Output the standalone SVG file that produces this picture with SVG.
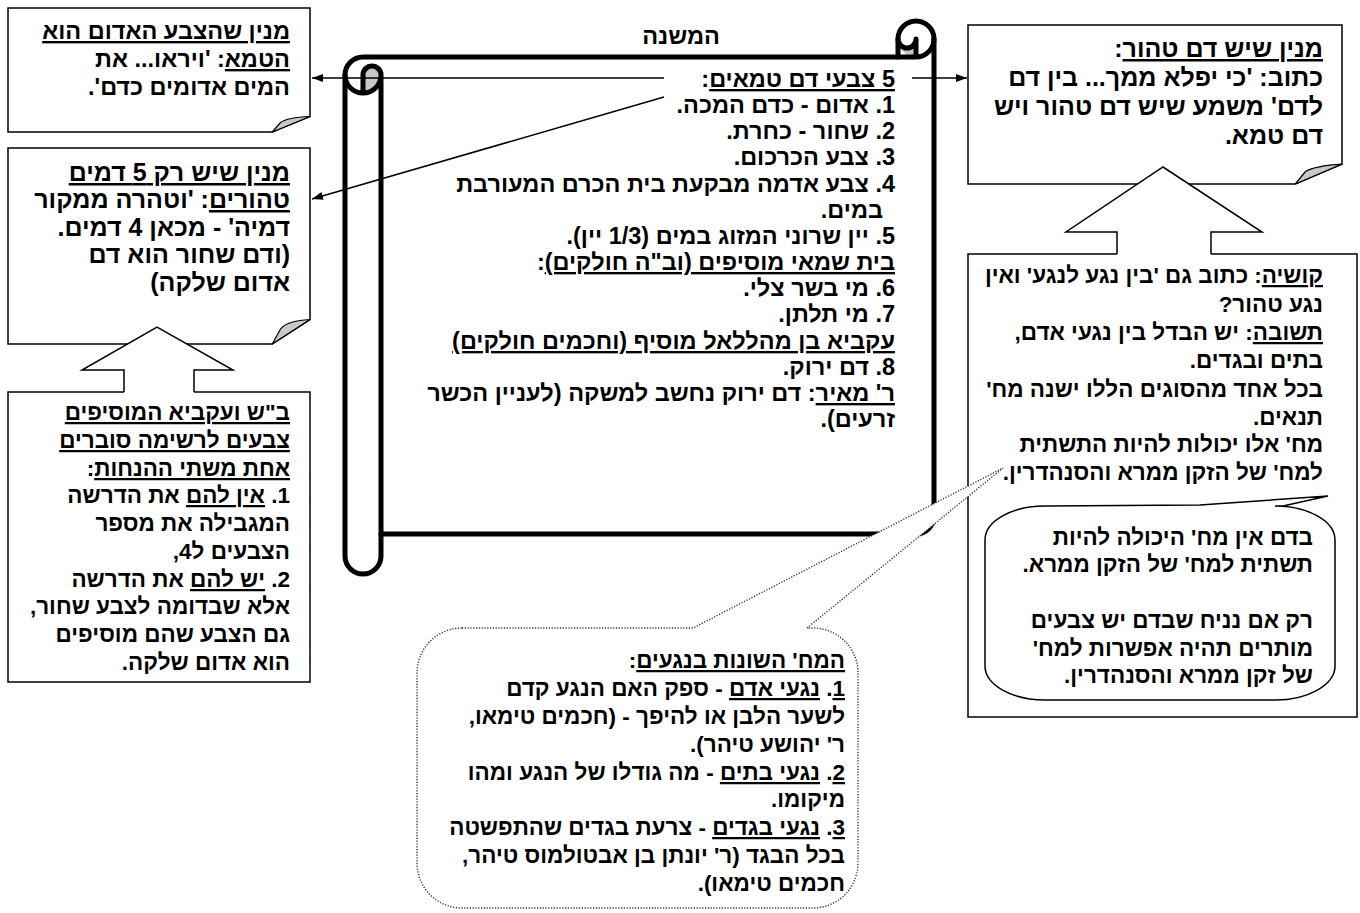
<svg xmlns="http://www.w3.org/2000/svg" width="1360" height="913" viewBox="0 0 1360 913">
<style>
.t{font-family:"Liberation Sans","DejaVu Sans",Arial,sans-serif;font-size:22.5px;font-weight:bold;fill:#000;direction:rtl;text-anchor:start}
.s24 .t{font-size:23.5px}
.s25 .t{font-size:25px}
.c{text-anchor:middle}
.u{text-decoration:underline}
.box{fill:#fff;stroke:#000;stroke-width:1.5}
.fold{fill:#c8c8c8;stroke:#000;stroke-width:1.2;stroke-linejoin:round}
.scroll{fill:#fff;stroke:#000;stroke-width:5;stroke-linejoin:round;stroke-linecap:round}
.scrollin{fill:none;stroke:#000;stroke-width:5;stroke-linejoin:round;stroke-linecap:round}
.gray{fill:#c8c8c8;stroke:none}
.line{fill:none;stroke:#000;stroke-width:1.5}
.blk{fill:#fff;stroke:none}
.blkedge{fill:none;stroke:#000;stroke-width:1.5;stroke-linejoin:miter}
.dot{fill:#fff;stroke:#333;stroke-width:1.4;stroke-dasharray:1.2 1.6}
.call{fill:#fff;stroke:#000;stroke-width:1.5}
</style>
<defs>
<marker id="ah" markerUnits="userSpaceOnUse" markerWidth="12" markerHeight="10" refX="11" refY="4" orient="auto">
<path d="M0,0 L11,4 L0,8 Z" fill="#000"/>
</marker>
</defs>

<g id="note-red-impure" class="s24">
<path class="box" d="M8,8 H310 V116.5 L272.25,132 H8 Z"/>
<path class="fold" d="M272.25,132 L280.5,122.5 C286,118.5 298,117 310,116.5 Z"/>
<text class="t" x="290" y="39"><tspan class="u">מנין שהצבע האדום הוא</tspan></text>
<text class="t" x="290" y="67"><tspan class="u">הטמא</tspan>: 'ויראו... את</text>
<text class="t" x="290" y="95">המים אדומים כדם'.</text>
</g>

<g id="note-five-pure" class="s25">
<path class="box" d="M8,148 H310 V319.5 L272.25,344 H8 Z"/>
<path class="fold" d="M272.25,344 L280.5,329 C286,322 298,320.5 310,319.5 Z"/>
<text class="t" x="290" y="181"><tspan class="u">מנין שיש רק 5 דמים</tspan></text>
<text class="t" x="290" y="208"><tspan class="u">טהורים</tspan>: 'וטהרה ממקור</text>
<text class="t" x="290" y="236">דמיה' - מכאן 4 דמים.</text>
<text class="t" x="290" y="263">(ודם שחור הוא דם</text>
<text class="t" x="290" y="291">אדום שלקה)</text>
</g>

<g id="box-bs-akavia">
<rect class="box" x="8" y="392" width="302" height="290"/>
<text class="t" x="290" y="420"><tspan class="u">ב"ש ועקביא המוסיפים</tspan></text>
<text class="t" x="290" y="448"><tspan class="u">צבעים לרשימה סוברים</tspan></text>
<text class="t" x="290" y="476"><tspan class="u">אחת משתי ההנחות</tspan>:</text>
<text class="t" x="290" y="503">1. <tspan class="u">אין להם</tspan> את הדרשה</text>
<text class="t" x="290" y="531">המגבילה את מספר</text>
<text class="t" x="290" y="559">הצבעים ל4,</text>
<text class="t" x="290" y="587">2. <tspan class="u">יש להם</tspan> את הדרשה</text>
<text class="t" x="290" y="614">אלא שבדומה לצבע שחור,</text>
<text class="t" x="290" y="642">גם הצבע שהם מוסיפים</text>
<text class="t" x="290" y="670">הוא אדום שלקה.</text>
</g>

<g id="scroll-mishna" class="s24">
<path class="scroll" d="M345,75 A18,18 0 0 1 363,57 L898,57 L898,39 A18,18 0 0 1 934,39 L934,516 A18,18 0 0 1 916,534 L381,534 L381,556 A18,18 0 0 1 345,556 Z"/>
<path class="gray" d="M363,93 A18,18 0 0 0 381,75 A9,9 0 0 0 363,75 Z"/>
<path class="gray" d="M898,39 A9,9 0 0 0 916,39 L916,57 A18,18 0 0 1 898,39 Z"/>
<path class="scrollin" d="M898,57 L916,57 A18,18 0 0 0 934,39 M916,57 L916,39 A9,9 0 0 1 898,39 M363,93 L363,75 A9,9 0 0 1 381,75 A18,18 0 0 1 345,75 M381,75 L381,534"/>
<text class="t c" x="681" y="44">המשנה</text>
<text class="t" x="895" y="87"><tspan class="u">5 צבעי דם טמאים</tspan>:</text>
<text class="t" x="895" y="113">1. אדום - כדם המכה.</text>
<text class="t" x="895" y="139">2. שחור - כחרת.</text>
<text class="t" x="895" y="165">3. צבע הכרכום.</text>
<text class="t" x="895" y="192">4. צבע אדמה מבקעת בית הכרם המעורבת</text>
<text class="t" x="883" y="218">במים.</text>
<text class="t" x="895" y="244">5. יין שרוני המזוג במים (1/3 יין).</text>
<text class="t" x="895" y="270"><tspan class="u">בית שמאי מוסיפים (וב"ה חולקים)</tspan>:</text>
<text class="t" x="895" y="296">6. מי בשר צלי.</text>
<text class="t" x="895" y="322">7. מי תלתן.</text>
<text class="t" x="895" y="349"><tspan class="u">עקביא בן מהללאל מוסיף (וחכמים חולקים)</tspan></text>
<text class="t" x="895" y="375">8. דם ירוק.</text>
<text class="t" x="895" y="401"><tspan class="u">ר' מאיר</tspan>: דם ירוק נחשב למשקה (לעניין הכשר</text>
<text class="t" x="895" y="427">זרעים).</text>
</g>

<g id="note-pure-blood" class="s25">
<path class="box" d="M968,25 H1342 V164.1 L1295.25,184 H968 Z"/>
<path class="fold" d="M1295.25,184 L1305.5,171.5 C1313,167 1327,165 1342,164.1 Z"/>
<text class="t" x="1323" y="57"><tspan class="u">מנין שיש דם טהור</tspan>:</text>
<text class="t" x="1323" y="86">כתוב: 'כי יפלא ממך... בין דם</text>
<text class="t" x="1323" y="115">לדם' משמע שיש דם טהור ויש</text>
<text class="t" x="1323" y="144">דם טמא.</text>
</g>

<g id="box-question">
<rect class="box" x="968" y="254" width="389" height="463"/>
<text class="t" x="1323" y="283"><tspan class="u">קושיה</tspan>: כתוב גם 'בין נגע לנגע' ואין</text>
<text class="t" x="1323" y="312">נגע טהור?</text>
<text class="t" x="1323" y="340"><tspan class="u">תשובה</tspan>: יש הבדל בין נגעי אדם,</text>
<text class="t" x="1323" y="368">בתים ובגדים.</text>
<text class="t" x="1323" y="397">בכל אחד מהסוגים הללו ישנה מח'</text>
<text class="t" x="1323" y="425">תנאים.</text>
<text class="t" x="1323" y="452">מח' אלו יכולות להיות התשתית</text>
<text class="t" x="1323" y="480">למח' של הזקן ממרא והסנהדרין.</text>
</g>

<g id="callout-blood">
<path class="call" d="M1045,506 L1200,505 L1328,496 L1283,506 L1275,506 A60,34 0 0 1 1335,540 L1335,666 A60,34 0 0 1 1275,700 L1045,700 A60,34 0 0 1 985,666 L985,540 A60,34 0 0 1 1045,506 Z"/>
<text class="t" x="1313" y="545">בדם אין מח' היכולה להיות</text>
<text class="t" x="1313" y="572">תשתית למח' של הזקן ממרא.</text>
<text class="t" x="1313" y="628">רק אם נניח שבדם יש צבעים</text>
<text class="t" x="1313" y="656">מותרים תהיה אפשרות למח'</text>
<text class="t" x="1313" y="683">של זקן ממרא והסנהדרין.</text>
</g>

<g id="bubble-negaim">
<path class="dot" d="M462,628 L693,628 L1003,468 L807,628 L813,628 A45,45 0 0 1 858,673 L858,863 A45,45 0 0 1 813,908 L462,908 A45,45 0 0 1 417,863 L417,673 A45,45 0 0 1 462,628 Z"/>
<text class="t" x="845" y="668"><tspan class="u">המח' השונות בנגעים</tspan>:</text>
<text class="t" x="845" y="696"><tspan class="u">1</tspan>. <tspan class="u">נגעי אדם</tspan> - ספק האם הנגע קדם</text>
<text class="t" x="845" y="724">לשער הלבן או להיפך - (חכמים טימאו,</text>
<text class="t" x="845" y="752">ר' יהושע טיהר).</text>
<text class="t" x="845" y="780"><tspan class="u">2</tspan>. <tspan class="u">נגעי בתים</tspan> - מה גודלו של הנגע ומהו</text>
<text class="t" x="845" y="807">מיקומו.</text>
<text class="t" x="845" y="835"><tspan class="u">3</tspan>. <tspan class="u">נגעי בגדים</tspan> - צרעת בגדים שהתפשטה</text>
<text class="t" x="845" y="863">בכל הבגד (ר' יונתן בן אבטולמוס טיהר,</text>
<text class="t" x="845" y="891">חכמים טימאו).</text>
</g>

<g id="connectors">
<line class="line" x1="664" y1="78" x2="312" y2="78" marker-end="url(#ah)"/>
<line class="line" x1="912" y1="78" x2="967" y2="78" marker-end="url(#ah)"/>
<line class="line" x1="664" y1="97" x2="312" y2="199" marker-end="url(#ah)"/>
<g id="arrow-up-left">
<path class="blk" d="M157,327 L233,370 L194,370 L194,394 L124,394 L124,370 L82,370 Z"/>
<path class="blkedge" d="M124,392 L124,370 L82,370 L157,327 L233,370 L194,370 L194,392"/>
</g>
<g id="arrow-up-right">
<path class="blk" d="M1163,167 L1262,232 L1211,232 L1211,256 L1117,256 L1117,232 L1066,232 Z"/>
<path class="blkedge" d="M1117,254 L1117,232 L1066,232 L1163,167 L1262,232 L1211,232 L1211,254"/>
</g>
</g>
</svg>
